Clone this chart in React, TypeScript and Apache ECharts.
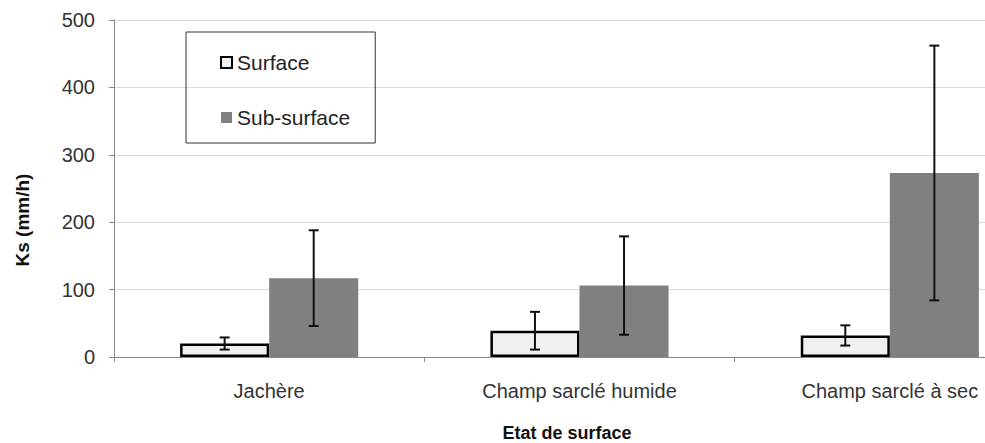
import React, { useEffect, useRef } from "react";
import * as echarts from "echarts";

const categories = ["Jachère", "Champ sarclé humide", "Champ sarclé à sec"];
const surface = [20, 39, 32];
const surfaceErr = [9, 28, 15];
const subSurface = [117, 106, 273];
const subSurfaceErr = [71, 73, 189];
const yTicks = { min: 0, max: 500, interval: 100 };

const FONT = "'Liberation Sans', Arial, sans-serif";
const BAR_FRAC = 0.287;

function errorSeries(name: string, values: number[], errs: number[], side: number) {
  return {
    type: "custom",
    name,
    z: 10,
    silent: true,
    data: values.map((v, i) => [i, v, errs[i]]),
    encode: { x: 0, y: 1 },
    renderItem: (params: any, api: any) => {
      const idx = api.value(0);
      const val = api.value(1);
      const err = api.value(2);
      const c = api.coord([idx, val]);
      const catW = api.size([1, 0])[0];
      const x = c[0] + side * (BAR_FRAC / 2) * catW;
      const top = api.coord([idx, val + err])[1];
      const bot = api.coord([idx, val - err])[1];
      const cap = 5;
      const st = { stroke: "#111", lineWidth: 2 };
      return {
        type: "group",
        children: [
          { type: "line", shape: { x1: x, y1: top, x2: x, y2: bot }, style: st },
          { type: "line", shape: { x1: x - cap, y1: top, x2: x + cap, y2: top }, style: st },
          { type: "line", shape: { x1: x - cap, y1: bot, x2: x + cap, y2: bot }, style: st },
        ],
      };
    },
  };
}

export default function App() {
  const ref = useRef<HTMLDivElement>(null);
  useEffect(() => {
    if (!ref.current) return;
    const chart = echarts.init(ref.current, null, { renderer: "svg" });
    chart.setOption({
      animation: false,
      backgroundColor: "#ffffff",
      textStyle: { fontFamily: FONT },
      grid: { left: 114, top: 20, width: 931, height: 337, outerBoundsMode: "none", containLabel: false },
      legend: {
        orient: "vertical",
        left: 186,
        top: 32,
        width: 192,
        padding: [20, 25, 15, 34],
        itemGap: 34,
        itemWidth: 11,
        itemHeight: 11,
        borderColor: "#333",
        borderWidth: 1,
        textStyle: { fontSize: 21, color: "#222", fontFamily: FONT },
        data: [
          {
            name: "Surface",
            icon: "rect",
            itemStyle: { color: "#f0f0f0", borderColor: "#000", borderWidth: 2 },
          },
          { name: "Sub-surface", icon: "rect", itemStyle: { color: "#808080", borderWidth: 0 } },
        ],
      },
      xAxis: {
        type: "category",
        data: categories,
        axisLine: { show: true, lineStyle: { color: "#888", width: 1 } },
        axisTick: { show: true, length: 5, lineStyle: { color: "#888" } },
        axisLabel: { fontSize: 20, color: "#333", margin: 24, fontFamily: FONT },
        splitLine: { show: false },
      },
      yAxis: {
        type: "value",
        min: yTicks.min,
        max: yTicks.max,
        interval: yTicks.interval,
        axisLine: { show: true, lineStyle: { color: "#888", width: 1 } },
        axisTick: { show: true, length: 5, lineStyle: { color: "#888" } },
        axisLabel: { fontSize: 20, color: "#333", margin: 19, fontFamily: FONT },
        splitLine: { show: true, lineStyle: { color: "#dadada", width: 1 } },
      },
      graphic: [
        {
          type: "text",
          x: 22,
          y: 220,
          rotation: Math.PI / 2,
          style: {
            text: "Ks (mm/h)",
            font: `bold 19px ${FONT}`,
            fill: "#111",
            align: "center",
            verticalAlign: "middle",
          },
        },
        {
          type: "text",
          x: 567,
          y: 433,
          style: {
            text: "Etat de surface",
            font: `bold 18px ${FONT}`,
            fill: "#111",
            align: "center",
            verticalAlign: "middle",
          },
        },
      ],
      series: [
        {
          type: "bar",
          name: "Surface",
          data: surface,
          barWidth: `${BAR_FRAC * 100}%`,
          barGap: "0%",
          itemStyle: { color: "#f0f0f0", borderColor: "#000", borderWidth: 2.5 },
        },
        {
          type: "bar",
          name: "Sub-surface",
          data: subSurface,
          barWidth: `${BAR_FRAC * 100}%`,
          barGap: "0%",
          itemStyle: { color: "#808080" },
        },
        errorSeries("Surface error", surface, surfaceErr, -1),
        errorSeries("Sub-surface error", subSurface, subSurfaceErr, 1),
      ],
    });
    return () => chart.dispose();
  }, []);
  return (
    <div
      ref={ref}
      style={{ position: "fixed", left: 0, top: 0, width: 985, height: 443, background: "#fff" }}
    />
  );
}
